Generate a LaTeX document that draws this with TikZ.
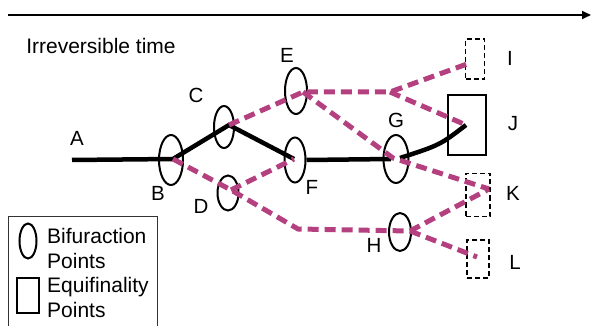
\documentclass[tikz,border=0pt]{standalone}
\usepackage{fontspec}
\setmainfont{Liberation Sans}
\usetikzlibrary{arrows.meta,shapes.geometric}
\definecolor{pathmag}{RGB}{180,64,128}
\begin{document}
\begin{tikzpicture}[x=1pt,y=-1pt,
  bif/.style={draw=black, line width=2pt, ellipse, inner sep=0pt},
  eqf/.style={draw=black, line width=2pt, rectangle, inner sep=0pt},
  tent/.style={draw=black, line width=1.1pt, dash pattern=on 5pt off 3pt, rectangle, inner sep=0pt},
  mainline/.style={line width=4.5pt, black},
  altline/.style={line width=5pt, pathmag, dash pattern=on 11pt off 6pt},
  lbl/.style={inner sep=0pt, font=\fontsize{20.5}{24}\selectfont},
  leg/.style={inner sep=0pt, anchor=base west, font=\fontsize{21}{24}\selectfont}]
\useasboundingbox (0,0) rectangle (592,326);
% time axis
\coordinate (t0) at (8,15);
\coordinate (t1) at (591,15);
\draw[line width=2pt, -{Triangle[length=9pt,width=8pt]}] (t0) -- (t1);
\node[lbl, font=\fontsize{21}{24}\selectfont] (title) at (101,46) {Irreversible time};
% bifurcation points
\node[bif, minimum width=24pt, minimum height=50pt] (B) at (171,160) {};
\node[bif, minimum width=20pt, minimum height=42pt] (C) at (224,127) {};
\node[bif, minimum width=22pt, minimum height=46pt] (E) at (296,91) {};
\node[bif, minimum width=21pt, minimum height=45pt] (F) at (295,160) {};
\node[bif, minimum width=21pt, minimum height=35pt] (D) at (228,193) {};
\node[bif, minimum width=25pt, minimum height=48pt] (G) at (396,159) {};
\node[bif, minimum width=22pt, minimum height=38pt] (H) at (400,232) {};
% equifinality points
\node[eqf, minimum width=38pt, minimum height=60pt] (J) at (467,125) {};
\node[tent, minimum width=19pt, minimum height=40pt] (I) at (475,59) {};
\node[tent, minimum width=24pt, minimum height=43pt] (K) at (478,195) {};
\node[tent, minimum width=22pt, minimum height=38pt] (L) at (478,259) {};
% path points
\coordinate (Ap) at (72,160);
\coordinate (Bp) at (173,159);
\coordinate (Cp) at (229,125);
\coordinate (Fp) at (294,159);
\coordinate (Gl) at (391,159);
\coordinate (Gr) at (400,158);
\coordinate (Jp) at (466,125);
\coordinate (Dp) at (231,190);
\coordinate (Lw) at (298,229);
\coordinate (Hp) at (410,231);
\coordinate (Ep) at (303,92);
\coordinate (Mp) at (390,92);
\coordinate (Ip) at (467,64);
\coordinate (Gp) at (393,158);
\coordinate (Kp) at (489,189);
\coordinate (Lp) at (477,257);
% main trajectory
\draw[mainline] (Ap) -- (Bp) -- (Cp) -- (Fp);
\draw[mainline] (F.east) -- (Gl);
\draw[mainline] (Gr) .. controls (440,145) .. (Jp);
% alternative trajectories
\draw[altline] (Bp) -- (Dp) -- (Lw) -- (Hp);
\draw[altline] (Dp) -- (Fp);
\draw[altline] (Cp) -- (Ep) -- (Mp) -- (Ip);
\draw[altline] (Mp) -- (Jp);
\draw[altline] (Ep) -- (Gp) -- (Kp);
\draw[altline] (Hp) -- (Kp);
\draw[altline] (Hp) -- (Lp);
% labels
\node[lbl] (la) at (77,138) {A};
\node[lbl] (lb) at (158,193) {B};
\node[lbl] (lc) at (196,95) {C};
\node[lbl] (ld) at (201,206) {D};
\node[lbl] (le) at (287,55) {E};
\node[lbl] (lf) at (312,187) {F};
\node[lbl] (lg) at (396,120) {G};
\node[lbl] (lh) at (374,245) {H};
\node[lbl] (li) at (510,58) {I};
\node[lbl] (lj) at (513,124) {J};
\node[lbl] (lk) at (513,193) {K};
\node[lbl] (ll) at (515,262) {L};
% legend
\coordinate (g0) at (8,327);
\coordinate (g1) at (8,216);
\coordinate (g2) at (157,216);
\coordinate (g3) at (157,327);
\draw[line width=1pt, black!80] (g0) -- (g1) -- (g2) -- (g3);
\node[bif, minimum width=17pt, minimum height=35pt] (legB) at (28,241) {};
\node[eqf, minimum width=22pt, minimum height=35pt] (legE) at (28,295) {};
\node[leg] (t1a) at (47,243) {Bifuraction};
\node[leg] (t1b) at (47,268) {Points};
\node[leg] (t2a) at (47,292) {Equifinality};
\node[leg] (t2b) at (47,317) {Points};
\end{tikzpicture}
\end{document}
